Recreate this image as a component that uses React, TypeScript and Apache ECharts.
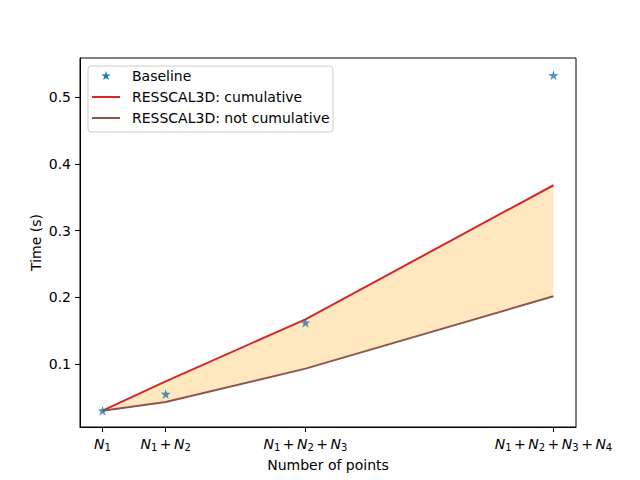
import React, { useEffect, useRef } from "react";
import * as echarts from "echarts";

const xPoints = [10000, 24000, 55000, 110000];
const xTickLabels = [
  "{i|N}{s|1}",
  "{i|N}{s|1}{o|+}{i|N}{s|2}",
  "{i|N}{s|1}{o|+}{i|N}{s|2}{o|+}{i|N}{s|3}",
  "{i|N}{s|1}{o|+}{i|N}{s|2}{o|+}{i|N}{s|3}{o|+}{i|N}{s|4}",
];
const yTicks = [0.1, 0.2, 0.3, 0.4, 0.5];
const baseline = [0.03, 0.055, 0.162, 0.533];
const cumulative = [0.03, 0.074, 0.167, 0.368];
const notCumulative = [0.03, 0.043, 0.093, 0.2015];
const legendNames = ["Baseline", "RESSCAL3D: cumulative", "RESSCAL3D: not cumulative"];

const FONT = "DejaVu Sans";
const BLUE = "#1f77b4";
const RED = "#d62728";
const BROWN = "#8c564b";
const FILL = "rgba(255,165,0,0.25)";

const STAR =
  "path://M100,0 L122.45,69.1 L195.11,69.1 L136.33,111.8 L158.78,180.9 L100,138.2 L41.22,180.9 L63.67,111.8 L4.89,69.1 L77.55,69.1 Z";

function starPoints(cx: number, cy: number, r: number): number[][] {
  const pts: number[][] = [];
  for (let k = 0; k < 10; k++) {
    const ang = Math.PI / 2 + (k * Math.PI) / 5;
    const rr = k % 2 === 0 ? r : r * 0.381966;
    pts.push([cx + rr * Math.cos(ang), cy - rr * Math.sin(ang)]);
  }
  return pts;
}

export default function App() {
  const ref = useRef<HTMLDivElement>(null);
  useEffect(() => {
    if (!ref.current) return;
    const chart = echarts.init(ref.current, undefined, { renderer: "svg" });
    const legendRowY = [76, 97, 118];
    const option: any = {
      animation: false,
      backgroundColor: "#ffffff",
      textStyle: { fontFamily: FONT },
      grid: {
        left: 80,
        right: 64,
        top: 58,
        bottom: 53,
        show: true,
        borderColor: "#000",
        borderWidth: 1,
        backgroundColor: "transparent",
      },
      xAxis: {
        type: "value",
        min: 5000,
        max: 115000,
        name: "Number of points",
        nameLocation: "middle",
        nameGap: 31,
        nameMoveOverlap: false,
        nameTextStyle: { fontSize: 14, color: "#000", fontFamily: FONT },
        splitLine: { show: false },
        axisLine: { show: true, lineStyle: { color: "#000", width: 1 } },
        axisTick: {
          show: true,
          length: 5,
          lineStyle: { color: "#000", width: 1 },
          customValues: xPoints,
        },
        axisLabel: {
          customValues: xPoints,
          margin: 8,
          color: "#000",
          fontSize: 14,
          fontFamily: FONT,
          formatter: (v: number) => {
            const i = xPoints.indexOf(v);
            return i >= 0 ? xTickLabels[i] : "";
          },
          rich: {
            i: { fontStyle: "italic", fontSize: 14, fontFamily: FONT, color: "#000" },
            s: { fontSize: 10, fontFamily: FONT, color: "#000", padding: [7, 0, 0, 0] },
            o: { fontSize: 14, fontFamily: FONT, color: "#000", padding: [0, 2.5, 0, 2.5] },
          },
        },
      },
      yAxis: {
        type: "value",
        min: 0.0055,
        max: 0.5588,
        name: "Time (s)",
        nameLocation: "middle",
        nameGap: 37,
        nameMoveOverlap: false,
        nameTextStyle: { fontSize: 14, color: "#000", fontFamily: FONT },
        splitLine: { show: false },
        axisLine: { show: true, lineStyle: { color: "#000", width: 1 } },
        axisTick: {
          show: true,
          length: 5,
          lineStyle: { color: "#000", width: 1 },
          customValues: yTicks,
        },
        axisLabel: {
          customValues: yTicks,
          margin: 9,
          color: "#000",
          fontSize: 14,
          fontFamily: FONT,
          formatter: (v: number) => v.toFixed(1),
        },
      },
      series: [
        {
          type: "custom",
          name: "fill",
          silent: true,
          z: 1,
          data: [[xPoints[0], cumulative[0]]],
          renderItem: (params: any, api: any) => {
            const upper = xPoints.map((x, i) => api.coord([x, cumulative[i]]));
            const lower = xPoints
              .map((x, i) => api.coord([x, notCumulative[i]]))
              .reverse();
            return {
              type: "polygon",
              shape: { points: upper.concat(lower) },
              style: { fill: FILL, stroke: "none" },
            };
          },
        },
        {
          type: "line",
          name: legendNames[1],
          z: 3,
          data: xPoints.map((x, i) => [x, cumulative[i]]),
          symbol: "none",
          lineStyle: { color: RED, width: 2 },
          itemStyle: { color: RED },
        },
        {
          type: "line",
          name: legendNames[2],
          z: 3,
          data: xPoints.map((x, i) => [x, notCumulative[i]]),
          symbol: "none",
          lineStyle: { color: BROWN, width: 2 },
          itemStyle: { color: BROWN },
        },
        {
          type: "scatter",
          name: legendNames[0],
          z: 4,
          data: xPoints.map((x, i) => [x, baseline[i]]),
          symbol: STAR,
          symbolSize: 10,
          itemStyle: { color: BLUE },
        },
      ],
      graphic: [
        {
          type: "group",
          z: 100,
          children: [
            {
              type: "rect",
              shape: { x: 88, y: 66, width: 245, height: 66, r: 3 },
              style: { fill: "rgba(255,255,255,0.8)", stroke: "#cccccc", lineWidth: 1 },
            },
            {
              type: "polygon",
              shape: { points: starPoints(106, legendRowY[0], 5) },
              style: { fill: BLUE },
            },
            {
              type: "line",
              shape: { x1: 92, y1: legendRowY[1], x2: 120, y2: legendRowY[1] },
              style: { stroke: RED, lineWidth: 2 },
            },
            {
              type: "line",
              shape: { x1: 92, y1: legendRowY[2], x2: 120, y2: legendRowY[2] },
              style: { stroke: BROWN, lineWidth: 2 },
            },
            ...legendNames.map((n, i) => ({
              type: "text",
              x: 132,
              y: legendRowY[i],
              style: {
                text: n,
                fontSize: 14,
                fontFamily: FONT,
                fill: "#000",
                verticalAlign: "middle",
                align: "left",
              },
            })),
          ],
        },
      ],
    };
    chart.setOption(option);
    return () => chart.dispose();
  }, []);
  return (
    <div
      ref={ref}
      style={{ position: "fixed", left: 0, top: 0, width: 640, height: 480, background: "#fff" }}
    />
  );
}
